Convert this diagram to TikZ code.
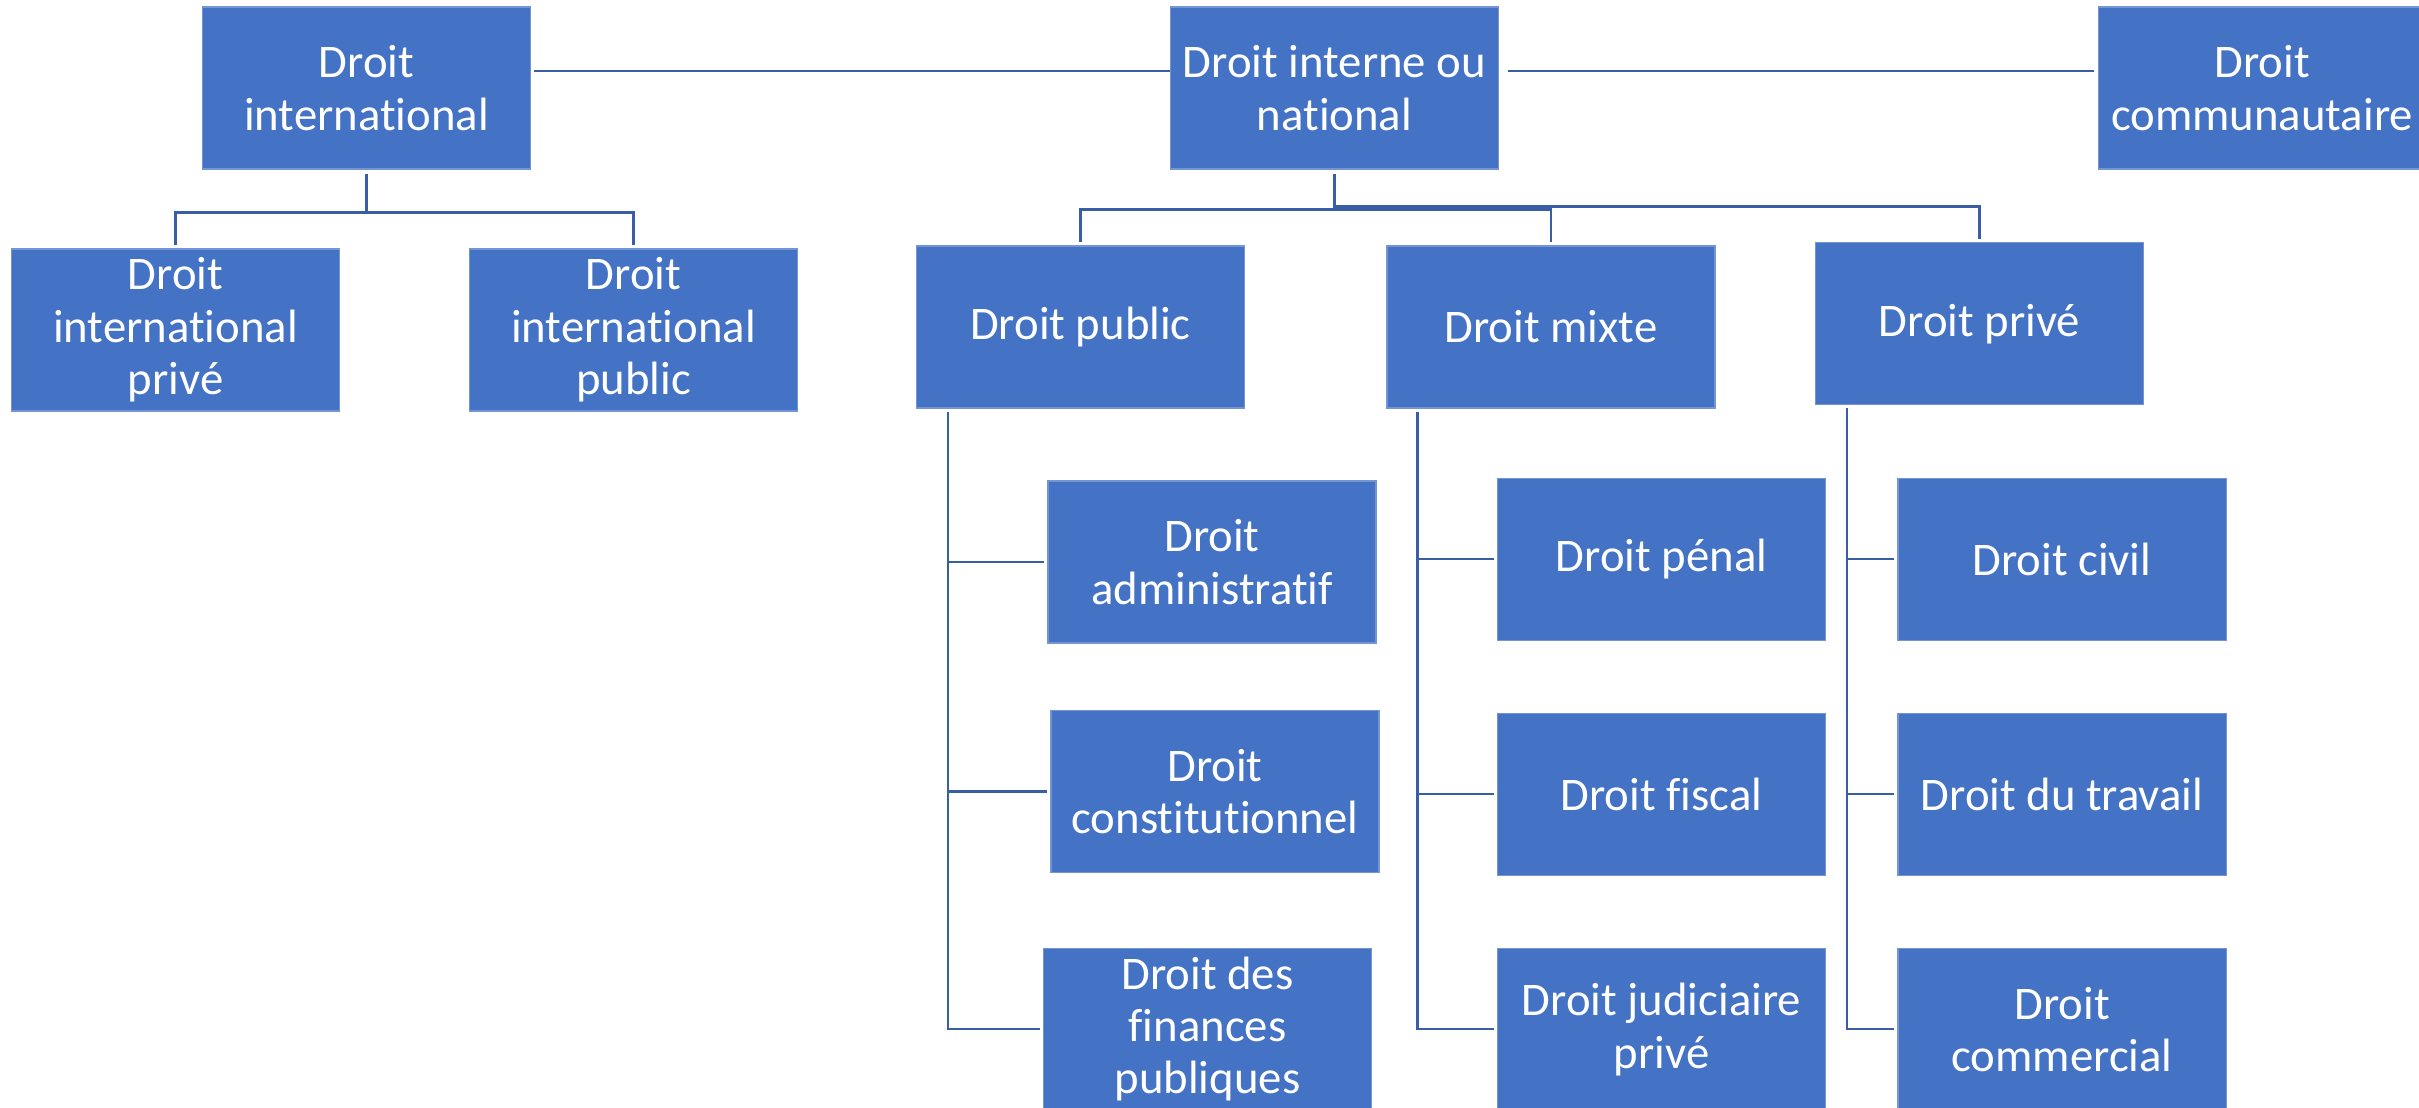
\documentclass[tikz,border=0pt]{standalone}
\usepackage{fontspec}
\setmainfont{Carlito}[Ligatures=NoCommon]
\usepackage{xcolor}
\usepackage{tikz}
\usetikzlibrary{positioning}

\definecolor{boxblue}{HTML}{4472C4}
\definecolor{linkblue}{HTML}{3A5EA6}

\tikzset{
	box/.style={rectangle, fill=boxblue, draw=boxblue!75!white, line width=0.3pt,
		text=white, align=center, minimum width=3.28cm, minimum height=1.62cm,
		inner sep=0pt, font=\fontsize{13.3pt}{14.9pt}\selectfont},
	link/.style={draw=linkblue, line width=0.6pt}
}

\begin{document}
\begin{tikzpicture}
	\clip (0,0) rectangle (24.19,-11.07);
	\useasboundingbox (0,0) rectangle (24.19,-11.07);
	% first row
	\node[box] (di) at (3.665,-0.88) {Droit\\international};
	\node[box] (din) at (13.345,-0.88) {Droit interne ou\\national};
	\node[box] (dc) at (22.62,-0.88) {Droit\\communautaire};
	% international
	\node[box] (dipriv) at (1.755,-3.30) {Droit\\international\\privé};
	\node[box] (dipub) at (6.335,-3.30) {Droit\\international\\public};
	% interne
	\node[box] (dpub) at (10.805,-3.27) {Droit public};
	\node[box] (dmix) at (15.51,-3.27) {Droit mixte};
	\node[box] (dpriv) at (19.795,-3.237) {Droit privé};
	% public
	\node[box] (dadm) at (12.12,-5.62) {Droit\\administratif};
	\node[box] (dconst) at (12.15,-7.915) {Droit\\constitutionnel};
	\node[box] (dfin) at (12.075,-10.29) {Droit des\\finances\\publiques};
	% mixte
	\node[box] (dpen) at (16.615,-5.594) {Droit pénal};
	\node[box] (dfis) at (16.615,-7.943) {Droit fiscal};
	\node[box] (djud) at (16.615,-10.294) {Droit judiciaire\\privé};
	% prive
	\node[box] (dciv) at (20.62,-5.594) {Droit civil};
	\node[box] (dtrav) at (20.62,-7.943) {Droit du travail};
	\node[box] (dcom) at (20.62,-10.294) {Droit\\commercial};

	\draw[link, shorten <=0.03cm] ([yshift=0.17cm]di.east) -- ([yshift=0.17cm]din.west);
	\draw[link, shorten <=0.09cm, shorten >=0.04cm] ([yshift=0.17cm]din.east) -- ([yshift=0.17cm]dc.west);

	\coordinate (bi) at ([yshift=-0.43cm]di.south);
	\draw[link] ([yshift=-0.04cm]di.south) -- (bi) -| ([yshift=0.03cm]dipriv.north);
	\draw[link] (bi) -| ([yshift=0.03cm]dipub.north);

	\coordinate (bn) at ([yshift=-0.40cm]din.south);
	\coordinate (bp) at ([yshift=-0.37cm]din.south);
	\draw[link] ([yshift=-0.04cm]din.south) -- (bn) -| ([yshift=0.03cm]dpub.north);
	\draw[link] (bn) -| ([yshift=0.03cm]dmix.north);
	\draw[link] (bp) -| ([yshift=0.03cm]dpriv.north);

	\coordinate (vpub) at ([xshift=0.32cm]dpub.south west);
	\draw[link] ([yshift=-0.03cm]vpub) |- ([xshift=-0.03cm]dfin.west);
	\draw[link] (vpub |- dadm.west) -- ([xshift=-0.03cm]dadm.west);
	\draw[link] (vpub |- dconst.west) -- ([xshift=-0.03cm]dconst.west);

	\coordinate (vmix) at ([xshift=0.31cm]dmix.south west);
	\draw[link] ([yshift=-0.03cm]vmix) |- ([xshift=-0.03cm]djud.west);
	\draw[link] (vmix |- dpen.west) -- ([xshift=-0.03cm]dpen.west);
	\draw[link] (vmix |- dfis.west) -- ([xshift=-0.03cm]dfis.west);

	\coordinate (vpriv) at ([xshift=0.32cm]dpriv.south west);
	\draw[link] ([yshift=-0.03cm]vpriv) |- ([xshift=-0.03cm]dcom.west);
	\draw[link] (vpriv |- dciv.west) -- ([xshift=-0.03cm]dciv.west);
	\draw[link] (vpriv |- dtrav.west) -- ([xshift=-0.03cm]dtrav.west);
\end{tikzpicture}
\end{document}
